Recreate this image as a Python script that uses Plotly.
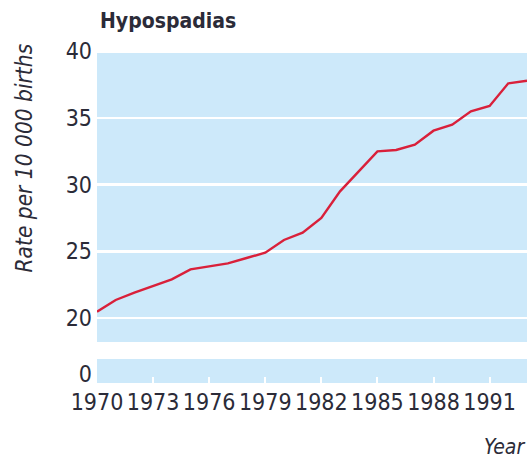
import plotly.graph_objects as go

years = list(range(1970, 1994))
rates = [20.47, 21.35, 21.9, 22.4, 22.9, 23.65, 23.9, 24.1, 24.5, 24.9,
         25.85, 26.4, 27.5, 29.5, 31.0, 32.5, 32.6, 33.0, 34.05, 34.5,
         35.5, 35.9, 37.6, 37.8]
x_ticks = [1970, 1973, 1976, 1979, 1982, 1985, 1988, 1991]
y_ticks_upper = [20, 25, 30, 35, 40]
y_ticks_lower = [0]

BG = "#cde9fa"
LINE = "#d9203a"
TXT = "#2b2b38"
FONT = "DejaVu Sans Condensed, Liberation Sans Narrow, sans-serif"

fig = go.Figure()
fig.add_trace(go.Scatter(x=years, y=rates, mode="lines",
                         line=dict(color=LINE, width=2.4), xaxis="x", yaxis="y2",
                         hoverinfo="skip", showlegend=False))
fig.add_trace(go.Scatter(x=[years[0]], y=[None], mode="lines", xaxis="x", yaxis="y",
                         showlegend=False, hoverinfo="skip"))

W, H = 531, 461
top, bottom, left, right = 50, 78, 97, 4
ph = H - top - bottom
upper_lo = (383 - 342) / ph
lower_hi = (383 - 359) / ph
TF = dict(size=23, family=FONT, color=TXT)

fig.update_layout(
    width=W, height=H,
    margin=dict(l=left, r=right, t=top, b=bottom, pad=0, autoexpand=False),
    paper_bgcolor="white", plot_bgcolor="white",
    font=dict(family=FONT, color=TXT, size=22),
    xaxis=dict(range=[1970, 1993], tickvals=x_ticks, ticktext=[str(v) for v in x_ticks],
               ticks="inside", ticklen=6, tickwidth=2, tickcolor="white", tickangle=0,
               showgrid=False, zeroline=False, showline=False, anchor="y",
               automargin=False, tickfont=TF, ticklabelstandoff=3),
    yaxis=dict(domain=[0, lower_hi], range=[-0.675, 1.125], tickvals=y_ticks_lower,
               showgrid=False, zeroline=False, showline=False, ticks="",
               automargin=False, tickfont=TF, ticklabelstandoff=4),
    yaxis2=dict(domain=[upper_lo, 1], range=[18.2, 40.1], tickvals=y_ticks_upper,
                showgrid=True, gridcolor="white", gridwidth=2.5, zeroline=False,
                showline=False, ticks="", anchor="x", automargin=False,
                tickfont=TF, ticklabelstandoff=4),
    shapes=[
        dict(type="rect", xref="x domain", yref="y domain", x0=0, x1=1, y0=0, y1=1,
             fillcolor=BG, line=dict(width=0), layer="below"),
        dict(type="rect", xref="x domain", yref="y2 domain", x0=0, x1=1, y0=0, y1=1,
             fillcolor=BG, line=dict(width=0), layer="below"),
    ],
    annotations=[
        dict(text="<b>Hypospadias</b>", xref="paper", yref="paper", x=0, y=1,
             xanchor="left", yanchor="middle", yshift=29, xshift=1, showarrow=False,
             font=dict(size=21, family=FONT, color=TXT)),
        dict(text="<i>Rate per 10 000 births</i>", xref="paper", yref="paper",
             x=0, y=0.5, xshift=-74, yshift=58, textangle=-90, showarrow=False,
             xanchor="center", yanchor="middle",
             font=dict(size=22.5, family=FONT, color=TXT)),
        dict(text="<i>Year</i>", xref="paper", yref="paper", x=1, y=0,
             xanchor="right", yanchor="middle", yshift=-64, xshift=0, showarrow=False,
             font=dict(size=21, family=FONT, color=TXT)),
    ],
)

fig.write_html("out.html", config={"displayModeBar": False, "staticPlot": True},
               post_script="document.body.style.margin='0';document.body.style.overflow='hidden';")
